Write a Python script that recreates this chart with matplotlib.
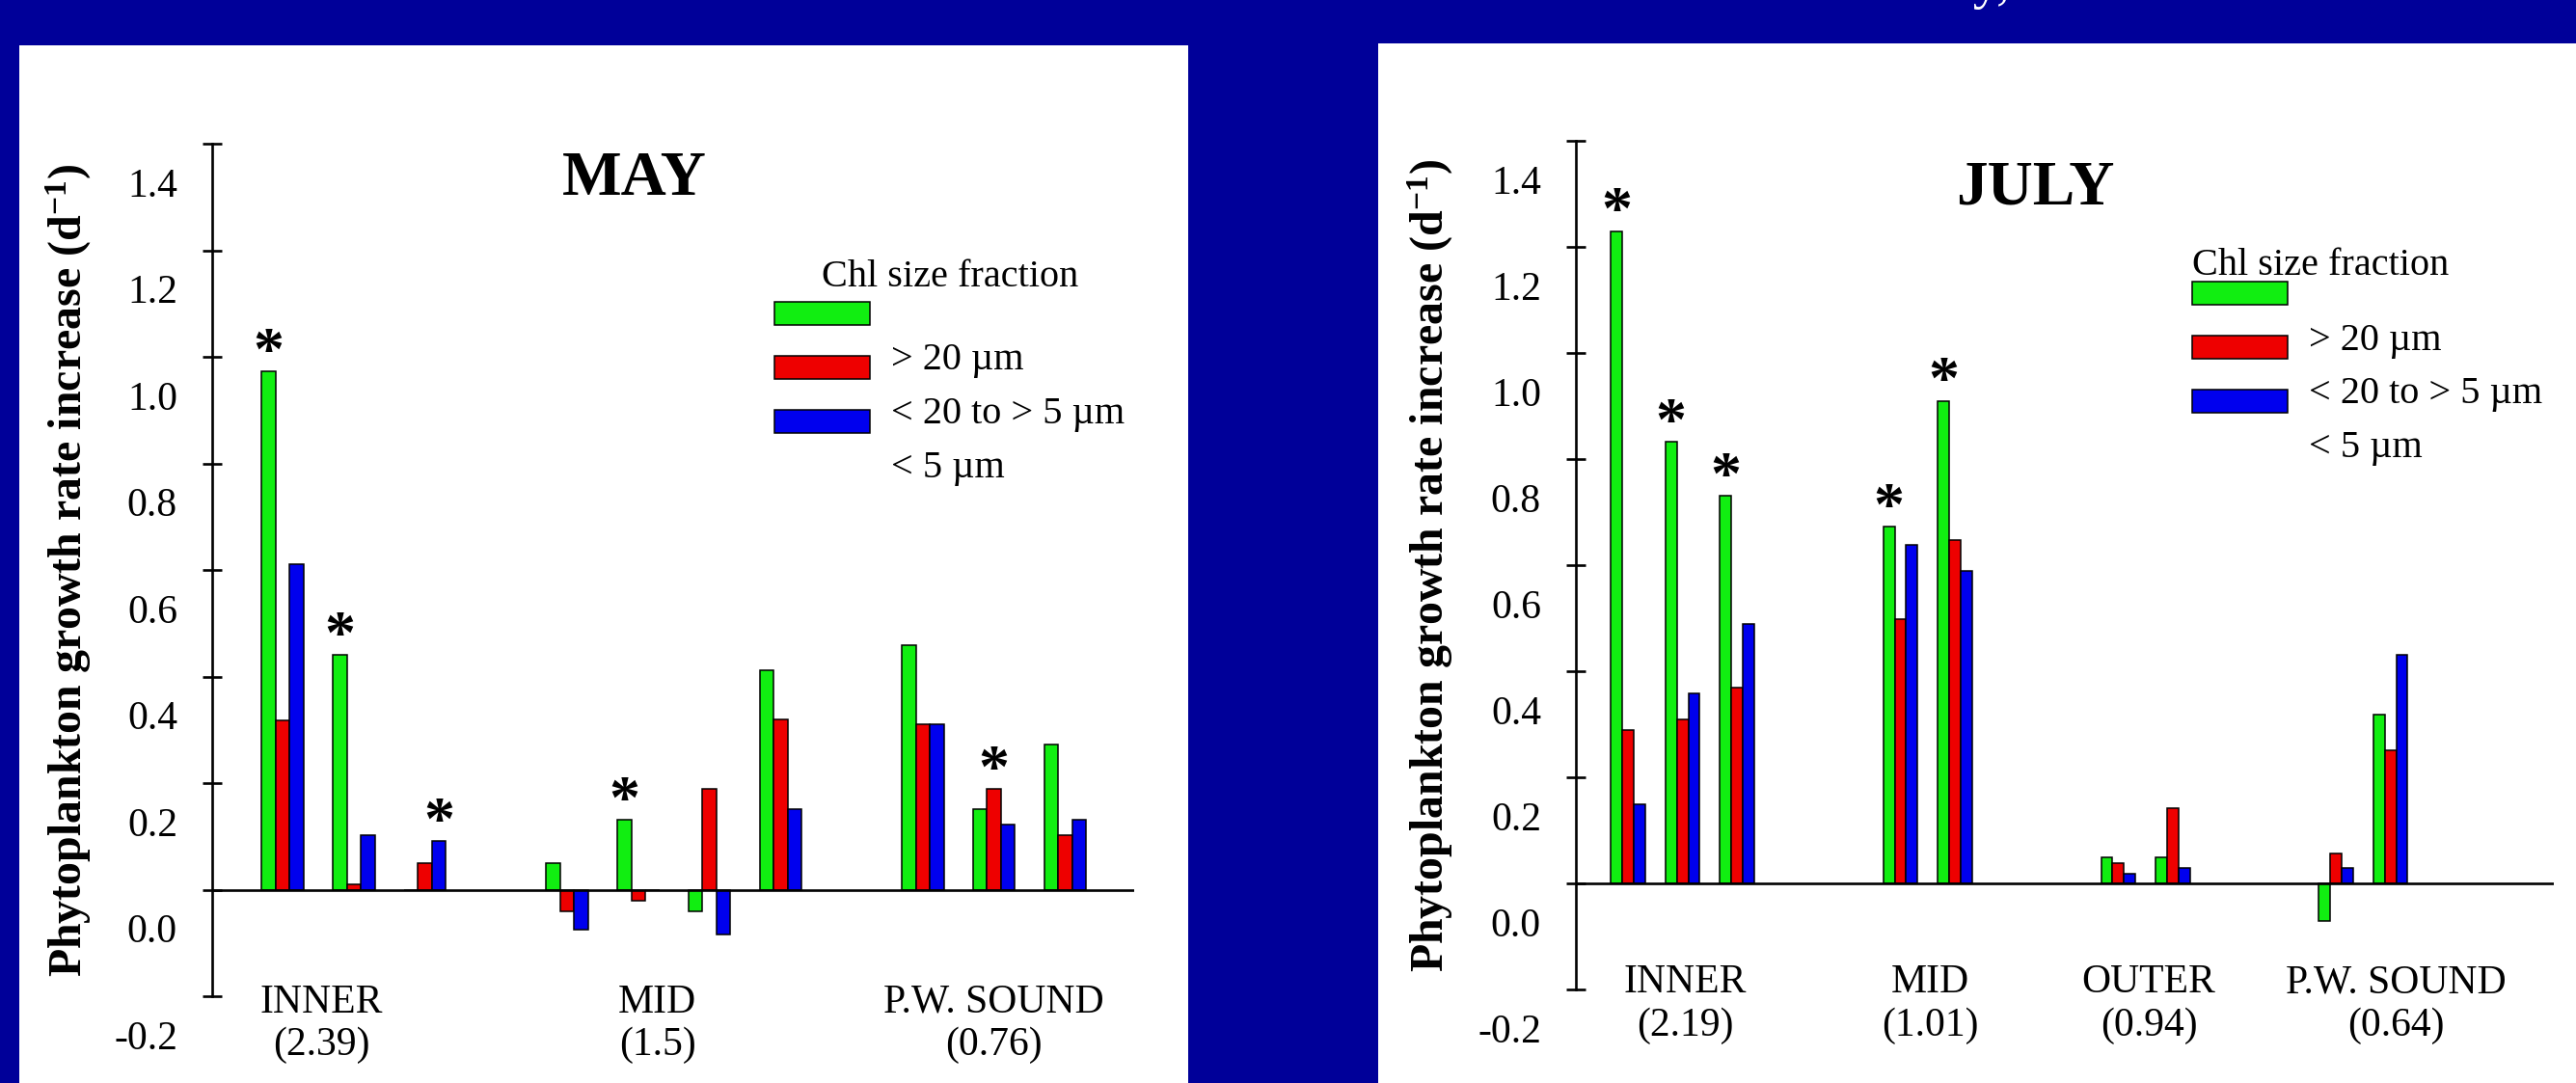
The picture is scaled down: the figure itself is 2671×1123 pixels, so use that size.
import matplotlib
matplotlib.use('Agg')
import matplotlib.pyplot as plt
import numpy as np
from matplotlib.patches import Rectangle, Patch
from matplotlib.legend_handler import HandlerPatch
from matplotlib.transforms import ScaledTranslation

plt.rcParams['font.family'] = 'Liberation Serif'
plt.rcParams['mathtext.fontset'] = 'custom'
plt.rcParams['mathtext.rm'] = 'Liberation Serif:bold'
plt.rcParams['mathtext.bf'] = 'Liberation Serif:bold'
plt.rcParams['mathtext.default'] = 'bf'
plt.rcParams['axes.unicode_minus'] = False

# ---- MAY ----
may_slots = [0, 1, 2, 4, 5, 6, 7, 9, 10, 11]
may_gt20 = [0.972, 0.441, 0.0, 0.049, 0.131, -0.040, 0.412, 0.459, 0.151, 0.272]
may_20to5 = [0.317, 0.010, 0.049, -0.040, -0.021, 0.189, 0.320, 0.311, 0.189, 0.102]
may_lt5 = [0.611, 0.102, 0.092, -0.076, 0.0, -0.085, 0.151, 0.311, 0.122, 0.131]
may_stars = [(0, 0), (1, 0), (2, 2), (4, 0), (8, 1)]  # (cluster, series)
may_cat_pos = [0.55, 5.27, 10.0]
may_cat_labels = ['INNER\n(2.39)', 'MID\n(1.5)', 'P.W. SOUND\n(0.76)']

# ---- JULY ----
jul_slots = [0, 1, 2, 5, 6, 9, 10, 13, 14]
jul_gt20 = [1.230, 0.833, 0.731, 0.673, 0.910, 0.049, 0.049, -0.070, 0.319]
jul_20to5 = [0.290, 0.309, 0.369, 0.499, 0.648, 0.039, 0.141, 0.057, 0.251]
jul_lt5 = [0.149, 0.359, 0.489, 0.639, 0.590, 0.019, 0.030, 0.030, 0.431]
jul_stars = [(0, 0), (1, 0), (2, 0), (3, 0), (4, 0)]
jul_cat_pos = [1.05, 5.55, 9.56, 14.1]
jul_cat_labels = ['INNER\n(2.19)', 'MID\n(1.01)', 'OUTER\n(0.94)', 'P.W. SOUND\n(0.64)']

y_ticks = [-0.2, 0.0, 0.2, 0.4, 0.6, 0.8, 1.0, 1.2, 1.4]
y_tick_labels = ['-0.2', '0.0', '0.2', '0.4', '0.6', '0.8', '1.0', '1.2', '1.4']

colors = ['#11ee11', '#ee0000', '#0000ee']
legend_labels = ['', '> 20 \u00b5m', '< 20 to > 5 \u00b5m', '< 5 \u00b5m']
navy = '#000099'

W, H = 2671, 1123
fig = plt.figure(figsize=(W / 100, H / 100), dpi=100)
fig.patch.set_facecolor(navy)

# white slide panels
fig.patches.append(Rectangle((20 / W, 0), (1232 - 20) / W, (H - 47) / H,
                             transform=fig.transFigure, facecolor='white',
                             edgecolor='none', zorder=-1))
fig.patches.append(Rectangle((1429 / W, 0), 1 - 1429 / W, (H - 45) / H,
                             transform=fig.transFigure, facecolor='white',
                             edgecolor='none', zorder=-1))

# slide title remnant, cut by the top edge as in the slide
fig.text(2085 / W, 1 + 2 / H, 'July,', color='white', ha='right',
         va='baseline', fontsize=40)


def shifted_patch(legend, orig_handle, xdescent, ydescent, width, height, fontsize):
    return Rectangle((-xdescent, -ydescent - 8.5), width, height)


def draw_panel(rect, slots, series, stars, cat_pos, cat_labels, width, xlim,
               title, title_xy, ylabel_x, legend_xy, title_sep, leg_align, xpad):
    ax = fig.add_axes(rect)
    ax.set_facecolor('none')
    x = np.array(slots, dtype=float)
    for k, vals in enumerate(series):
        ax.bar(x + (k - 1) * width, vals, width, color=colors[k],
               edgecolor='black', linewidth=1.1, zorder=2)

    for ci, si in stars:
        v = series[si][ci]
        ax.annotate('*', xy=(x[ci] + (si - 1) * width, v), xytext=(0, 1.5),
                    textcoords='offset points', ha='center', va='baseline',
                    fontsize=46, fontweight='bold')

    ax.axhline(0, color='black', linewidth=1.9, zorder=3)
    ax.set_xlim(*xlim)
    ax.set_ylim(-0.2, 1.4)
    for s in ['top', 'right', 'bottom']:
        ax.spines[s].set_visible(False)
    ax.spines['left'].set_linewidth(1.9)

    ax.set_yticks(y_ticks)
    ax.set_yticklabels(y_tick_labels)
    ax.tick_params(axis='y', direction='inout', length=14, width=1.9,
                   pad=19, labelsize=30)
    # tick labels sit lower than their ticks on the original slide
    off = ScaledTranslation(0, -40 / 100, fig.dpi_scale_trans)
    for lab in ax.get_yticklabels():
        lab.set_transform(lab.get_transform() + off)

    ax.set_xticks(cat_pos)
    ax.set_xticklabels(cat_labels, linespacing=1.2)
    ax.tick_params(axis='x', length=0, pad=xpad, labelsize=30)

    ax.set_ylabel('Phytoplankton growth rate increase (d$^{-1}$)',
                  fontsize=34.5, fontweight='bold')
    ax.yaxis.set_label_coords(ylabel_x, 0.5)

    ax.text(title_xy[0], title_xy[1], title, transform=ax.transAxes,
            ha='center', va='baseline', fontsize=47, fontweight='bold')

    handles = [Patch(facecolor=c, edgecolor='black', linewidth=1.1) for c in colors]
    handles.append(Patch(facecolor='none', edgecolor='none'))
    leg = ax.legend(handles, legend_labels, title='Chl size fraction',
                    title_fontsize=29, fontsize=29, frameon=False,
                    loc='upper left', bbox_to_anchor=legend_xy, borderpad=0,
                    borderaxespad=0, handlelength=2.45, handleheight=0.55,
                    handletextpad=0.55, labelspacing=0.47,
                    alignment=leg_align,
                    handler_map={Patch: HandlerPatch(patch_func=shifted_patch)})
    leg._legend_box.sep = title_sep
    return ax


# left panel (MAY)
draw_panel([220 / W, (H - 1033) / H, 956 / W, 884 / H], may_slots,
           [may_gt20, may_20to5, may_lt5], may_stars, may_cat_pos,
           may_cat_labels, 0.197, (-0.99, 11.97), 'MAY', (0.458, 0.940),
           -0.129, (0.61, 0.864), -5, 'center', -9)

# right panel (JULY)
draw_panel([1634 / W, (H - 1026) / H, 1014 / W, 880 / H], jul_slots,
           [jul_gt20, jul_20to5, jul_lt5], jul_stars, jul_cat_pos,
           jul_cat_labels, 0.21, (-0.96, 17.0), 'JULY', (0.470, 0.926),
           -0.123, (0.630, 0.874), -11, 'left', -19)

fig.savefig('out.png', dpi=100, facecolor=fig.get_facecolor())
